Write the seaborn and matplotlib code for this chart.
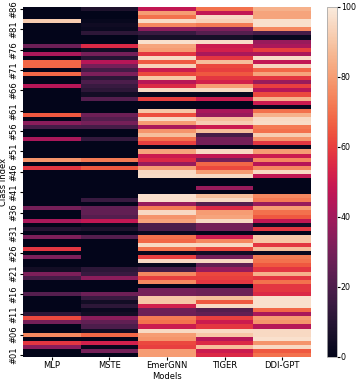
import matplotlib
matplotlib.use('Agg')
import matplotlib.pyplot as plt
import numpy as np
import pandas as pd
import seaborn as sns

# Models on the x axis
models = ['MLP', 'MSTE', 'EmerGNN', 'TIGER', 'DDI-GPT']

# per-class scores, listed from class #86 (top row) down to #01 (bottom row)
mlp = [0, 0, 0, 92, 0, 0, 0, 0, 0, 28,
       0, 42, 0, 68, 68, 0, 68, 0, 0, 45,
       0, 0, 0, 0, 0, 0, 65, 0, 35, 18,
       0, 0, 42, 0, 0, 0, 0, 78, 0, 58,
       0, 0, 0, 0, 0, 0, 0, 0, 0, 30,
       0, 0, 42, 0, 10, 0, 32, 0, 0, 58,
       0, 32, 0, 0, 5, 32, 18, 0, 0, 0,
       22, 0, 0, 0, 0, 12, 62, 30, 0, 0,
       75, 0, 58, 35, 0, 0]
mste = [8, 0, 0, 2, 4, 3, 12, 0, 0, 55,
        5, 30, 10, 45, 30, 18, 32, 12, 20, 15,
        12, 5, 22, 0, 0, 0, 28, 22, 30, 18,
        0, 0, 14, 0, 0, 0, 0, 72, 3, 65,
        0, 0, 0, 0, 0, 0, 0, 15, 0, 25,
        25, 22, 48, 3, 8, 0, 22, 0, 0, 0,
        0, 0, 0, 0, 12, 15, 35, 0, 0, 0,
        28, 15, 5, 12, 3, 5, 35, 25, 20, 5,
        68, 0, 52, 2, 30, 0]
emergnn = [48, 80, 70, 96, 75, 35, 15, 6, 97, 82,
           80, 58, 95, 65, 93, 50, 62, 90, 45, 55,
           95, 2, 60, 0, 0, 90, 63, 95, 80, 42,
           78, 88, 70, 60, 2, 82, 50, 55, 38, 80,
           95, 96, 0, 0, 0, 0, 97, 97, 38, 72,
           95, 78, 82, 20, 20, 3, 70, 68, 95, 70,
           2, 60, 95, 2, 18, 75, 60, 75, 0, 30,
           30, 90, 90, 52, 28, 28, 72, 70, 50, 95,
           80, 78, 62, 60, 80, 80]
tiger = [70, 48, 95, 93, 72, 32, 22, 6, 96, 50,
         52, 42, 58, 88, 62, 60, 65, 58, 52, 80,
         95, 2, 50, 0, 0, 42, 38, 88, 92, 50,
         88, 18, 30, 30, 0, 95, 48, 30, 68, 62,
         80, 95, 0, 0, 38, 0, 88, 95, 22, 55,
         80, 82, 95, 30, 30, 0, 50, 75, 95, 62,
         5, 30, 95, 25, 38, 62, 60, 58, 0, 28,
         28, 88, 65, 95, 22, 25, 60, 50, 58, 95,
         90, 45, 55, 88, 50, 55]
ddi_gpt = [85, 82, 82, 97, 97, 75, 18, 2, 38, 42,
           60, 42, 96, 48, 94, 68, 82, 58, 38, 60,
           45, 62, 85, 50, 2, 70, 85, 95, 96, 72,
           70, 92, 78, 58, 2, 80, 50, 75, 45, 75,
           95, 48, 0, 0, 0, 0, 75, 72, 38, 80,
           70, 65, 48, 5, 58, 0, 90, 90, 58, 88,
           3, 72, 70, 65, 58, 85, 58, 70, 58, 58,
           55, 97, 97, 97, 68, 42, 80, 78, 45, 95,
           95, 97, 78, 95, 65, 70]

classes = ['#%02d' % i for i in range(86, 0, -1)]

df = pd.DataFrame({'MLP': mlp, 'MSTE': mste, 'EmerGNN': emergnn,
                   'TIGER': tiger, 'DDI-GPT': ddi_gpt}, index=classes)[models]

plt.rcParams['font.family'] = ['DejaVu Sans']
fs = 6

fig = plt.figure(figsize=(3.57, 3.80), dpi=100)
ax = fig.add_axes([23 / 357, 23 / 380, 288 / 357, 350 / 380])
cax = fig.add_axes([327 / 357, 23 / 380, 10 / 357, 350 / 380])

sns.heatmap(df, cmap='rocket', vmin=0, vmax=100, ax=ax, cbar_ax=cax,
            yticklabels=5)

ax.set_xlabel('Models', fontsize=fs, labelpad=1.5)
ax.set_ylabel('Class Index', fontsize=fs, labelpad=1.5)
ax.tick_params(axis='both', labelsize=fs, length=2, pad=1)
ax.set_yticklabels(ax.get_yticklabels(), rotation=90, va='center')
ax.set_xticklabels(ax.get_xticklabels(), rotation=0)

cax.tick_params(labelsize=5.7, length=2, pad=0.8)
cax.set_yticks([0, 20, 40, 60, 80, 100])
cbar = ax.collections[0].colorbar
cbar.outline.set_visible(True)
cbar.outline.set_linewidth(0.6)
cbar.outline.set_edgecolor('#aaaaaa')

fig.savefig('out.png', dpi=100)
